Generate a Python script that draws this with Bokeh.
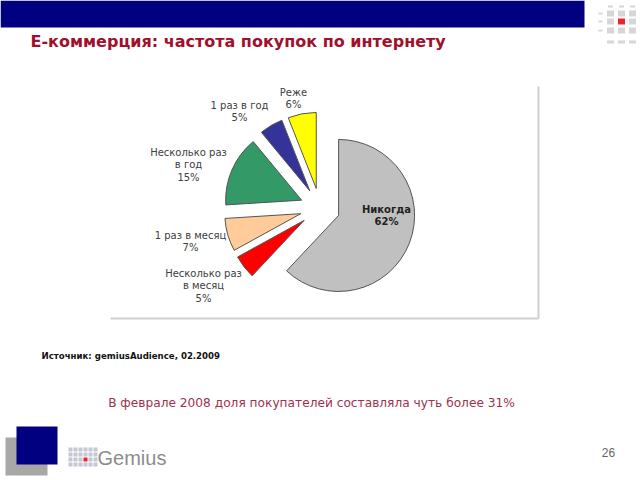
import math
from bokeh.plotting import figure
from bokeh.models import Range1d
from bokeh.embed import file_html
from bokeh.resources import INLINE
from bokeh.core.properties import value

# ---- data ----
categories = ["Никогда", "Несколько раз\nв месяц", "1 раз в месяц",
              "Несколько раз\nв год", "1 раз в год", "Реже"]
shares = [62, 5, 7, 15, 5, 6]
colors = ["#C0C0C0", "#FF0000", "#FFCC99", "#339966", "#333399", "#FFFF00"]

title = "Е-коммерция: частота покупок по интернету"
source_note = "Источник: gemiusAudience, 02.2009"
message = "В феврале 2008 доля покупателей составляла чуть более 31%"
page_no = "26"

# ---- layout (screen pixels, y down) ----
W, H = 640, 480
CX, CY = 319.5, 207.6     # pie centre
R = 76                    # pie radius
EXPLODE = 20              # slice offset
label_pos = [(386, 215), (203, 285), (190, 241), (188, 164), (239, 111), (293, 98)]
LINE_H = 12.5

def sy(y):
    return H - y

p = figure(width=W, height=H, x_range=Range1d(0, W), y_range=Range1d(0, H),
           output_backend="svg", toolbar_location=None, min_border=0,
           x_axis_location=None, y_axis_location=None)
p.grid.visible = False
p.outline_line_color = None
p.background_fill_color = "white"
p.border_fill_color = "white"

# top band
p.quad(left=0, right=584, bottom=sy(27), top=sy(0), fill_color="#000080", line_color=None)

# top-right logo grid
for cx in [610, 621, 632]:
    for cy in [13, 21, 30]:
        col = "#E8262E" if (cx == 621 and cy == 21) else "#D6D6D6"
        p.rect(x=cx, y=sy(cy), width=7, height=6, fill_color=col, line_color=None)
    p.rect(x=cx, y=sy(6), width=5, height=2, fill_color="#D6D6D6", line_color=None)
    p.rect(x=cx, y=sy(41.5), width=7, height=3, fill_color="#D6D6D6", line_color=None)
for cy in [13, 21, 30]:
    p.rect(x=600, y=sy(cy), width=4, height=2, fill_color="#D6D6D6", line_color=None)

# title
p.text(x=[30], y=[sy(41)], text=[title], text_font=value("DejaVu Sans"),
       text_font_size="16px", text_font_style="bold", text_color="#A0102C",
       text_baseline="middle", text_align="left")

# chart area border (right & bottom)
p.line(x=[538, 538], y=[sy(86), sy(318)], line_color="#CFCFCF", line_width=2)
p.line(x=[110, 538], y=[sy(318), sy(318)], line_color="#CFCFCF", line_width=2)

# pie slices
cum = 0.0
xs, ys, starts, ends = [], [], [], []
for s in shares:
    a0 = 90 - 360 * cum / 100.0
    a1 = 90 - 360 * (cum + s) / 100.0
    mid = math.radians((a0 + a1) / 2)
    xs.append(CX + EXPLODE * math.cos(mid))
    ys.append(sy(CY) + EXPLODE * math.sin(mid))
    starts.append(math.radians(a1))
    ends.append(math.radians(a0))
    cum += s
p.wedge(x=xs, y=ys, radius=R, start_angle=starts, end_angle=ends,
        direction="anticlock", fill_color=colors, line_color="#555555", line_width=1)

# slice labels
for i, (cat, sh) in enumerate(zip(categories, shares)):
    lines = cat.split("\n") + [f"{sh}%"]
    lx, ly = label_pos[i]
    n = len(lines)
    for k, t in enumerate(lines):
        yy = ly + (k - (n - 1) / 2) * LINE_H
        p.text(x=[lx], y=[sy(yy)], text=[t], text_font=value("DejaVu Sans"),
               text_font_size="10px",
               text_font_style="bold" if i == 0 else "normal",
               text_color="#222222" if i == 0 else "#404040",
               text_baseline="middle", text_align="center")

# source
p.text(x=[41], y=[sy(355)], text=[source_note], text_font=value("DejaVu Sans"),
       text_font_size="8.6px", text_font_style="bold", text_color="#111111",
       text_baseline="middle", text_align="left")

# message
p.text(x=[311], y=[sy(402)], text=[message], text_font=value("DejaVu Sans"),
       text_font_size="12.2px", text_color="#A0304C",
       text_baseline="middle", text_align="center")

# bottom-left squares
p.quad(left=5, right=47, bottom=sy(475), top=sy(437), fill_color="#A8A8A8", line_color=None)
p.quad(left=16, right=57, bottom=sy(464), top=sy(426), fill_color="#000080", line_color=None)

# Gemius logo icon
for gx in [70, 75, 80, 85, 90, 95]:
    for gy in [449, 454, 459, 464]:
        col = "#E8262E" if (gx == 85 and gy == 459) else "#C4C8D4"
        p.rect(x=gx, y=sy(gy), width=4, height=4, fill_color=col, line_color=None)
p.text(x=[97], y=[sy(457)], text=["Gemius"], text_font=value("Liberation Sans"),
       text_font_size="20px", text_color="#8C8C8C",
       text_baseline="middle", text_align="left")

# page number
p.text(x=[608], y=[sy(452)], text=[page_no], text_font=value("Liberation Sans"),
       text_font_size="12px", text_color="#666666",
       text_baseline="middle", text_align="center")

open("out.html", "w").write(file_html(p, INLINE))
